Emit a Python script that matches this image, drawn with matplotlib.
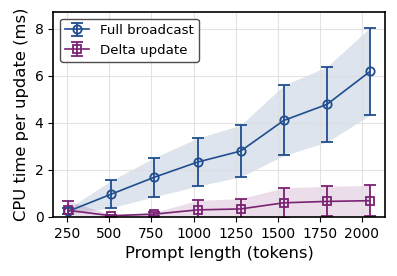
import numpy as np
import matplotlib.pyplot as plt

tokens = [256, 512, 768, 1024, 1280, 1536, 1792, 2048]
full_mean = [0.24, 0.97, 1.69, 2.33, 2.80, 4.10, 4.78, 6.18]
full_std = [0.12, 0.58, 0.83, 1.02, 1.10, 1.49, 1.60, 1.86]
delta_mean = [0.28, 0.05, 0.12, 0.30, 0.34, 0.60, 0.66, 0.69]
delta_std = [0.40, 0.05, 0.08, 0.40, 0.44, 0.64, 0.64, 0.65]

blue = "#1f4e8f"
purple = "#7a2272"

fig, ax = plt.subplots(figsize=(3.97, 2.76), dpi=100)

x = np.array(tokens)
for mean, std, color, marker, label in [
    (full_mean, full_std, blue, "o", "Full broadcast"),
    (delta_mean, delta_std, purple, "s", "Delta update"),
]:
    mean = np.array(mean)
    std = np.array(std)
    ax.fill_between(x, mean - std, mean + std, color=color, alpha=0.15, linewidth=0)
    ax.errorbar(x, mean, yerr=std, color=color, marker=marker, markerfacecolor="none",
                markersize=6, markeredgewidth=1.3, linewidth=1.2, capsize=4,
                elinewidth=1.3, capthick=1.3, label=label)

ax.set_xticks([250, 500, 750, 1000, 1250, 1500, 1750, 2000])
ax.set_ylim(0, 8.7)
ax.set_xlabel("Prompt length (tokens)", fontsize=11.8)
ax.set_ylabel("CPU time per update (ms)", fontsize=11.8)
ax.tick_params(labelsize=10)
ax.grid(True, color="#dddddd", linewidth=0.8, alpha=0.8)
for s in ax.spines.values():
    s.set_linewidth(1.2)
ax.legend(loc="upper left", fontsize=9.6, edgecolor="#222222", fancybox=True,
          handlelength=1.8)

plt.subplots_adjust(left=0.134, right=0.970, top=0.956, bottom=0.214)
plt.savefig("out.png")
plt.close()
